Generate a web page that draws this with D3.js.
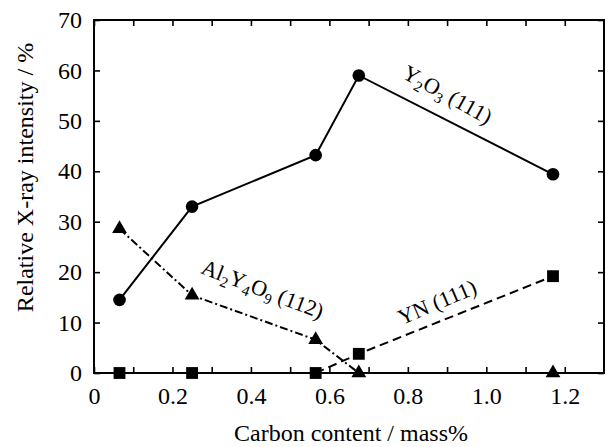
<!DOCTYPE html>
<html>
<head>
<meta charset="utf-8">
<script src="https://cdn.jsdelivr.net/npm/d3@7"></script>
<style>
  body { margin: 0; background: #fff; }
  svg text { font-family: "Liberation Serif", "Times New Roman", Times, "Nimbus Roman", "DejaVu Serif", serif; fill: #000; }
</style>
</head>
<body>
<div id="chart"></div>
<script>
// carbon content (mass%) for each sample
var carbon = [0.065, 0.25, 0.565, 0.675, 1.17];

// relative X-ray intensity (%) of each phase
var y2o3 = [14.5, 33.0, 43.2, 59.0, 39.4];
var al2y4o9 = [28.6, 15.4, 6.6, 0, 0];
var yn = [0, 0, 0, 3.8, 19.2];

var xTicks = [0, 0.2, 0.4, 0.6, 0.8, 1.0, 1.2];
var xMinor = [0.1, 0.3, 0.5, 0.7, 0.9, 1.1];
var yTicks = [0, 10, 20, 30, 40, 50, 60, 70];

var serif = "'Liberation Serif', 'Times New Roman', Times, 'Nimbus Roman', 'DejaVu Serif', serif";

// set margins and dimensions of graph
var margin = {top: 20, right: 4, bottom: 74, left: 94},
    width = 608 - margin.left - margin.right,
    height = 447 - margin.top - margin.bottom;

var svg = d3.select("#chart")
  .append("svg")
  .attr("width", 608)
  .attr("height", 447)
.append("g")
  .attr("transform", "translate(" + margin.left + "," + margin.top + ")");

var x = d3.scaleLinear().domain([0, 1.3]).range([0, width]);
var y = d3.scaleLinear().domain([0, 70]).range([height, 0]);

// inward ticks on all four sides
var tickLen = 6;
svg.append("g")
  .attr("transform", "translate(0," + height + ")")
  .call(d3.axisBottom(x).tickValues(xTicks.concat(xMinor)).tickSize(-tickLen).tickPadding(14)
    .tickFormat(function(d) { return xTicks.indexOf(d) >= 0 ? (d === 0 ? "0" : d3.format(".1f")(d)) : ""; }));
svg.append("g")
  .call(d3.axisTop(x).tickValues(xTicks.concat(xMinor)).tickSize(-tickLen).tickFormat(""));
svg.append("g")
  .call(d3.axisLeft(y).tickValues(yTicks).tickSize(-tickLen).tickPadding(12).tickFormat(d3.format("d")));
svg.append("g")
  .attr("transform", "translate(" + width + ",0)")
  .call(d3.axisRight(y).tickValues(yTicks).tickSize(-tickLen).tickFormat(""));

svg.selectAll("g").attr("font-family", serif);
svg.selectAll(".domain").remove();
svg.selectAll(".tick line").attr("stroke", "#000").attr("stroke-width", 1.6);
svg.selectAll(".tick text").attr("font-size", 24).attr("fill", "#000");

// frame
svg.append("rect")
  .attr("width", width)
  .attr("height", height)
  .attr("fill", "none")
  .attr("stroke", "#000")
  .attr("stroke-width", 2);

var line = d3.line()
  .x(function(d) { return x(d[0]); })
  .y(function(d) { return y(d[1]); });

var series = [
  {values: y2o3, dash: null, symbol: d3.symbolCircle, size: 125},
  {values: al2y4o9, dash: "8,3,2,3", symbol: d3.symbolTriangle, size: 95},
  {values: yn, dash: "9,5", symbol: d3.symbolSquare, size: 140}
];

series.forEach(function(s) {
  var pts = carbon.map(function(c, i) { return [c, s.values[i]]; });
  svg.append("path")
    .datum(pts)
    .attr("d", line)
    .attr("fill", "none")
    .attr("stroke", "#000")
    .attr("stroke-width", 2)
    .attr("stroke-dasharray", s.dash);
  svg.selectAll(null)
    .data(pts)
    .enter()
    .append("path")
      .attr("d", d3.symbol().type(s.symbol).size(s.size))
      .attr("transform", function(d) { return "translate(" + x(d[0]) + "," + y(d[1]) + ")"; })
      .attr("fill", "#000");
});

// phase labels along the lines; "_" marks a subscript
function phaseLabel(parts, px, py, angle) {
  var t = svg.append("text")
    .attr("transform", "translate(" + px + "," + py + ") rotate(" + angle + ")")
    .attr("text-anchor", "middle")
    .attr("font-family", serif)
    .attr("font-size", 22);
  var low = false;
  parts.forEach(function(p) {
    var sub = p.charAt(0) === "_";
    var sp = t.append("tspan").text(sub ? p.slice(1) : p);
    if (sub) sp.attr("font-size", 15);
    if (sub !== low) sp.attr("dy", sub ? 5 : -5);
    low = sub;
  });
}

phaseLabel(["Y", "_2", "O", "_3", " (111)"], 350, 81, 29);
phaseLabel(["Al", "_2", "Y", "_4", "O", "_9", " (112)"], 166, 276, 21);
phaseLabel(["YN (111)"], 346, 289, -23);

// axis titles
svg.append("text")
  .attr("x", width / 2 + 2)
  .attr("y", height + 68)
  .attr("text-anchor", "middle")
  .attr("font-family", serif)
  .attr("font-size", 24)
  .text("Carbon content / mass%");

svg.append("text")
  .attr("transform", "translate(" + (-61) + "," + (height / 2 - 19) + ") rotate(-90)")
  .attr("text-anchor", "middle")
  .attr("font-family", serif)
  .attr("font-size", 24)
  .text("Relative X-ray intensity / %");
</script>
</body>
</html>
